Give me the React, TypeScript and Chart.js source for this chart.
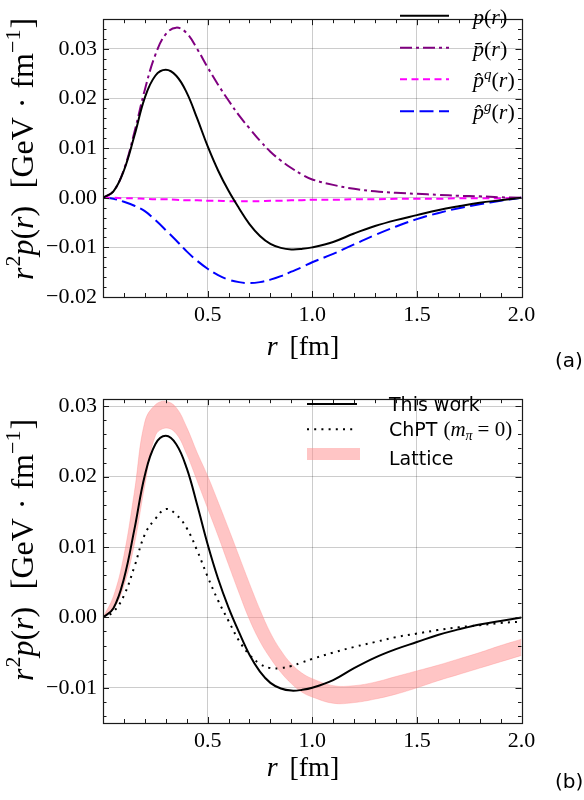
import React, { useEffect, useRef } from 'react';
import { Chart, registerables } from 'chart.js';

Chart.register(...registerables);

// ---------- data ----------
const R = [0, 0.05, 0.1, 0.15, 0.2, 0.25, 0.3, 0.35, 0.4, 0.45, 0.5, 0.55, 0.6, 0.65, 0.7, 0.75, 0.8, 0.85, 0.9, 0.95, 1.0, 1.1, 1.2, 1.3, 1.4, 1.5, 1.6, 1.7, 1.8, 1.9, 2.0];

const P_TOTAL = [0, 0.0013, 0.0055, 0.0125, 0.0202, 0.0246, 0.0258, 0.0246, 0.0212, 0.0160, 0.0104, 0.0055, 0.0014, -0.0021, -0.0053, -0.0077, -0.0093, -0.0101, -0.0104, -0.0103, -0.0100, -0.0089, -0.0072, -0.0057, -0.0045, -0.0035, -0.0025, -0.0017, -0.0010, -0.0005, 0];
const P_BAR = [0, 0.0013, 0.0057, 0.0132, 0.0218, 0.0288, 0.0330, 0.0343, 0.0332, 0.0300, 0.0263, 0.0228, 0.0196, 0.0166, 0.0140, 0.0115, 0.0093, 0.0075, 0.0060, 0.0047, 0.0037, 0.0026, 0.0018, 0.0013, 0.0010, 0.0008, 0.0006, 0.0004, 0.0003, 0.0001, 0];
const P_QUARK = [0, 0, -0.0001, -0.0001, -0.0002, -0.0003, -0.0003, -0.0004, -0.0005, -0.0005, -0.0006, -0.0006, -0.0007, -0.0007, -0.0007, -0.0007, -0.0006, -0.0006, -0.0005, -0.0005, -0.0004, -0.0004, -0.0003, -0.0003, -0.0002, -0.0002, -0.0002, -0.0001, -0.0001, -0.0001, 0];
const P_GLUON = [0, -0.0002, -0.0008, -0.0016, -0.0027, -0.0045, -0.0065, -0.0086, -0.0108, -0.0127, -0.0143, -0.0156, -0.0165, -0.0170, -0.0172, -0.0170, -0.0165, -0.0158, -0.0149, -0.0140, -0.0130, -0.0113, -0.0094, -0.0075, -0.0058, -0.0043, -0.0031, -0.0021, -0.0013, -0.0006, 0];

const CHPT = [0, 0.0008, 0.0031, 0.0072, 0.0118, 0.0140, 0.0154, 0.0146, 0.0127, 0.0095, 0.0058, 0.0024, -0.0005, -0.0033, -0.0053, -0.0066, -0.0072, -0.0072, -0.0069, -0.0064, -0.0059, -0.0050, -0.0042, -0.0035, -0.0028, -0.0023, -0.0018, -0.0014, -0.0011, -0.0008, -0.0006];
const LAT_UPPER = [0, 0.0030, 0.0088, 0.0178, 0.0278, 0.0302, 0.0307, 0.0298, 0.0270, 0.0234, 0.0201, 0.0164, 0.0126, 0.0087, 0.0048, 0.0011, -0.0022, -0.0047, -0.0066, -0.0079, -0.0087, -0.0097, -0.0097, -0.0092, -0.0084, -0.0076, -0.0068, -0.0059, -0.0050, -0.0040, -0.0031];
const LAT_LOWER = [0, 0.0012, 0.0045, 0.0104, 0.0188, 0.0258, 0.0269, 0.0261, 0.0232, 0.0194, 0.0155, 0.0116, 0.0075, 0.0035, -0.0003, -0.0034, -0.0058, -0.0078, -0.0094, -0.0106, -0.0113, -0.0122, -0.0121, -0.0116, -0.0109, -0.0100, -0.0090, -0.0081, -0.0072, -0.0063, -0.0054];

const X_TICKS = [0, 0.5, 1.0, 1.5, 2.0];
const Y_TICKS_A = [-0.02, -0.01, 0, 0.01, 0.02, 0.03];
const Y_TICKS_B = [-0.01, 0, 0.01, 0.02, 0.03];

const LEGEND_A = ['p(r)', 'p\u0304(r)', 'p\u0302q(r)', 'p\u0302g(r)'];
const LEGEND_B = ['This work', 'ChPT (m\u03c0 = 0)', 'Lattice'];

// ---------- style ----------
const SERIF = '"Liberation Serif", "Times New Roman", Times, serif';
const SANS = '"DejaVu Sans", "Noto Sans", sans-serif';
const N = (s: number) => `${s}px ${SERIF}`;
const I = (s: number) => `italic ${s}px ${SERIF}`;
const GRID = 'rgba(0,0,0,0.2)';
const FRAME = '#1a1a1a';
const BAND = 'rgba(255,140,140,0.5)';

type Seg = { t: string; font: string; dy?: number; dx?: number };

function drawRich(ctx: CanvasRenderingContext2D, segs: Seg[], x: number, y: number, align: 'left' | 'center') {
  let w = 0;
  for (const s of segs) {
    ctx.font = s.font;
    w += ctx.measureText(s.t).width + (s.dx || 0);
  }
  let cx = align === 'center' ? x - w / 2 : x;
  for (const s of segs) {
    ctx.font = s.font;
    cx += s.dx || 0;
    ctx.fillText(s.t, cx, y + (s.dy || 0));
    cx += ctx.measureText(s.t).width;
  }
}

function yTitleSegs(S: number): Seg[] {
  const sup = Math.round(S * 0.68);
  return [
    { t: 'r', font: I(S) },
    { t: '2', font: N(sup), dy: -S * 0.4, dx: 1 },
    { t: 'p', font: I(S) },
    { t: '(', font: N(S) },
    { t: 'r', font: I(S) },
    { t: ')', font: N(S) },
    { t: '[GeV', font: N(S), dx: S * 0.55 },
    { t: '\u00b7', font: N(S), dx: S * 0.28 },
    { t: 'fm', font: N(S), dx: S * 0.28 },
    { t: '\u22121', font: N(sup), dy: -S * 0.4 },
    { t: ']', font: N(S), dx: 1 },
  ];
}

function xTitleSegs(S: number): Seg[] {
  return [
    { t: 'r', font: I(S) },
    { t: '[fm]', font: N(S), dx: S * 0.42 },
  ];
}

function fmtY(v: number) {
  if (Math.abs(v) < 1e-9) return '0.00';
  const s = Math.abs(v).toFixed(2);
  return v < 0 ? '\u2212' + s : s;
}

interface Spec {
  yMin: number;
  yMax: number;
  yTicks: number[];
  topPad: number;
  xAxisH: number;
  yTitleCY: number;
  xTitleBase: number;
  panel: string;
  panelBase: number;
  legend: (ctx: CanvasRenderingContext2D, chart: Chart) => void;
}

function framePlugin(spec: Spec) {
  return {
    id: 'frame',
    afterDraw(chart: Chart) {
      const ctx = chart.ctx;
      const a = chart.chartArea;
      const xs: any = chart.scales.x;
      const ys: any = chart.scales.y;
      ctx.save();
      ctx.strokeStyle = FRAME;
      ctx.lineWidth = 1;
      ctx.beginPath();
      // x ticks (minor every 0.1, major every 0.5)
      for (let k = 1; k < 20; k++) {
        const px = Math.round(xs.getPixelForValue(k / 10)) + 0.5;
        const len = k % 5 === 0 ? 6 : 4;
        ctx.moveTo(px, a.bottom);
        ctx.lineTo(px, a.bottom - len);
        ctx.moveTo(px, a.top);
        ctx.lineTo(px, a.top + len);
      }
      // y ticks (minor every 0.002, major every 0.01)
      for (let k = Math.ceil(spec.yMin / 0.002 - 1e-6); k * 0.002 <= spec.yMax + 1e-9; k++) {
        const v = k * 0.002;
        const py = Math.round(ys.getPixelForValue(v)) + 0.5;
        const len = k % 5 === 0 ? 6 : 3.5;
        ctx.moveTo(a.left, py);
        ctx.lineTo(a.left + len, py);
        ctx.moveTo(a.right, py);
        ctx.lineTo(a.right - len, py);
      }
      ctx.stroke();
      ctx.lineWidth = 1.2;
      ctx.strokeRect(Math.round(a.left) + 0.5, Math.round(a.top) + 0.5, Math.round(a.right - a.left), Math.round(a.bottom - a.top));

      // titles
      ctx.fillStyle = '#000';
      ctx.textBaseline = 'alphabetic';
      ctx.save();
      ctx.translate(33, spec.yTitleCY);
      ctx.rotate(-Math.PI / 2);
      drawRich(ctx, yTitleSegs(32), 0, 0, 'center');
      ctx.restore();
      drawRich(ctx, xTitleSegs(28), 303, spec.xTitleBase, 'center');
      ctx.font = `20px ${SANS}`;
      ctx.fillText(spec.panel, 555, spec.panelBase);

      spec.legend(ctx, chart);
      ctx.restore();
    },
  };
}

function legendA(ctx: CanvasRenderingContext2D, chart: Chart) {
  const rows = [15.7, 47.7, 79.3, 111.3];
  const S = 22;
  const sub = 15;
  const labels: Seg[][] = [
    [{ t: 'p', font: I(S) }, { t: '(', font: N(S) }, { t: 'r', font: I(S) }, { t: ')', font: N(S) }],
    [{ t: LEGEND_A[1].slice(0, 2), font: I(S) }, { t: '(', font: N(S) }, { t: 'r', font: I(S) }, { t: ')', font: N(S) }],
    [{ t: LEGEND_A[2].slice(0, 2), font: I(S) }, { t: 'q', font: I(sub), dy: -8 }, { t: '(', font: N(S) }, { t: 'r', font: I(S) }, { t: ')', font: N(S) }],
    [{ t: LEGEND_A[3].slice(0, 2), font: I(S) }, { t: 'g', font: I(sub), dy: -8 }, { t: '(', font: N(S) }, { t: 'r', font: I(S) }, { t: ')', font: N(S) }],
  ];
  rows.forEach((y, i) => {
    const ds: any = chart.data.datasets[i];
    ctx.save();
    ctx.strokeStyle = ds.borderColor;
    ctx.lineWidth = ds.borderWidth;
    ctx.setLineDash(ds.borderDash || []);
    ctx.beginPath();
    ctx.moveTo(400, y);
    ctx.lineTo(449, y);
    ctx.stroke();
    ctx.restore();
    ctx.fillStyle = '#000';
    drawRich(ctx, labels[i], 473, y + 8, 'left');
  });
}

function legendB(ctx: CanvasRenderingContext2D, chart: Chart) {
  const rows = [24, 49.3, 74];
  const d0: any = chart.data.datasets[0];
  const d1: any = chart.data.datasets[1];
  ctx.save();
  ctx.strokeStyle = d0.borderColor;
  ctx.lineWidth = d0.borderWidth;
  ctx.beginPath();
  ctx.moveTo(307, rows[0]);
  ctx.lineTo(357, rows[0]);
  ctx.stroke();
  ctx.strokeStyle = d1.borderColor;
  ctx.lineWidth = d1.borderWidth;
  ctx.setLineDash(d1.borderDash);
  ctx.beginPath();
  ctx.moveTo(307, rows[1]);
  ctx.lineTo(357, rows[1]);
  ctx.stroke();
  ctx.restore();
  ctx.fillStyle = BAND;
  ctx.fillRect(307, rows[2] - 6, 53, 12);
  ctx.fillStyle = '#000';
  const SF = `19px ${SANS}`;
  drawRich(ctx, [{ t: LEGEND_B[0], font: SF }], 389, rows[0] + 6.5, 'left');
  drawRich(ctx, [
    { t: 'ChPT ', font: SF },
    { t: '(', font: N(21) },
    { t: 'm', font: I(21) },
    { t: '\u03c0', font: I(14), dy: 4 },
    { t: '= 0)', font: N(21), dx: 5 },
  ], 389, rows[1] + 7, 'left');
  drawRich(ctx, [{ t: LEGEND_B[2], font: SF }], 389, rows[2] + 10.5, 'left');
}

function scales(spec: Spec) {
  return {
    x: {
      type: 'linear',
      min: 0,
      max: 2,
      afterBuildTicks: (s: any) => {
        s.ticks = X_TICKS.map((v) => ({ value: v }));
      },
      afterFit: (s: any) => {
        s.height = spec.xAxisH;
      },
      ticks: {
        callback: (v: any) => (Number(v) === 0 ? '' : Number(v).toFixed(1)),
        font: { family: SERIF, size: 22 },
        color: '#000',
        padding: 5,
        autoSkip: false,
        maxRotation: 0,
      },
      grid: {
        color: (c: any) => (c.tick && c.tick.value > 0.01 && c.tick.value < 1.99 ? GRID : 'rgba(0,0,0,0)'),
        drawTicks: false,
        lineWidth: 1,
      },
      border: { display: false },
    },
    y: {
      type: 'linear',
      min: spec.yMin,
      max: spec.yMax,
      afterBuildTicks: (s: any) => {
        s.ticks = spec.yTicks.map((v) => ({ value: v }));
      },
      afterFit: (s: any) => {
        s.width = 103;
      },
      ticks: {
        callback: (v: any) => fmtY(Number(v)),
        font: { family: SERIF, size: 22 },
        color: '#000',
        padding: 6,
        autoSkip: false,
      },
      grid: {
        color: (c: any) => (c.tick && c.tick.value > spec.yMin + 1e-6 && c.tick.value < spec.yMax - 1e-6 ? GRID : 'rgba(0,0,0,0)'),
        drawTicks: false,
        lineWidth: 1,
      },
      border: { display: false },
    },
  };
}

function series(ys: number[], extra: any) {
  return {
    data: R.map((r, i) => ({ x: r, y: ys[i] })),
    pointRadius: 0,
    tension: 0.4,
    fill: false,
    borderWidth: 2,
    ...extra,
  };
}

function baseOptions(spec: Spec) {
  return {
    responsive: false,
    animation: false,
    devicePixelRatio: 1,
    layout: { padding: { left: 0, right: 62.5, top: spec.topPad, bottom: 0 } },
    plugins: { legend: { display: false }, tooltip: { enabled: false }, title: { display: false } },
    events: [],
    scales: scales(spec),
  };
}

const SPEC_A: Spec = {
  yMin: -0.02,
  yMax: 0.036,
  yTicks: Y_TICKS_A,
  topPad: 3.5,
  xAxisH: 83,
  yTitleCY: 149,
  xTitleBase: 355,
  panel: '(a)',
  panelBase: 367,
  legend: legendA,
};

const SPEC_B: Spec = {
  yMin: -0.015,
  yMax: 0.031,
  yTicks: Y_TICKS_B,
  topPad: 9,
  xAxisH: 77,
  yTitleCY: 170,
  xTitleBase: 396,
  panel: '(b)',
  panelBase: 408,
  legend: legendB,
};

function configA(): any {
  return {
    type: 'line',
    data: {
      datasets: [
        series(P_TOTAL, { label: LEGEND_A[0], borderColor: '#000000', borderDash: [] }),
        series(P_BAR, { label: LEGEND_A[1], borderColor: '#800080', borderDash: [12, 4, 3, 4] }),
        series(P_QUARK, { label: LEGEND_A[2], borderColor: '#ff00ff', borderDash: [7, 4.5] }),
        series(P_GLUON, { label: LEGEND_A[3], borderColor: '#0000ff', borderDash: [14, 5.5] }),
      ],
    },
    options: baseOptions(SPEC_A),
    plugins: [framePlugin(SPEC_A)],
  };
}

function configB(): any {
  return {
    type: 'line',
    data: {
      datasets: [
        series(P_TOTAL, { label: LEGEND_B[0], borderColor: '#000000', borderDash: [] }),
        series(CHPT, { label: LEGEND_B[1], borderColor: '#000000', borderDash: [2, 5.2], borderWidth: 2 }),
        series(LAT_LOWER, { label: 'Lattice lower', borderColor: 'rgba(255,140,140,0.35)', borderWidth: 1 }),
        series(LAT_UPPER, { label: LEGEND_B[2], borderColor: 'rgba(255,140,140,0.35)', borderWidth: 1, fill: '-1', backgroundColor: BAND }),
      ],
    },
    options: baseOptions(SPEC_B),
    plugins: [framePlugin(SPEC_B)],
  };
}

export default function App() {
  const refA = useRef<HTMLCanvasElement>(null);
  const refB = useRef<HTMLCanvasElement>(null);
  useEffect(() => {
    const a = new Chart(refA.current as HTMLCanvasElement, configA());
    const b = new Chart(refB.current as HTMLCanvasElement, configB());
    return () => {
      a.destroy();
      b.destroy();
    };
  }, []);
  return (
    <div style={{ position: 'absolute', left: 0, top: 0, width: 584, height: 800, background: '#fff', overflow: 'hidden' }}>
      <canvas ref={refA} width={584} height={380} style={{ position: 'absolute', left: 0, top: 0, width: 584, height: 380 }} />
      <canvas ref={refB} width={584} height={420} style={{ position: 'absolute', left: 0, top: 380, width: 584, height: 420 }} />
    </div>
  );
}
